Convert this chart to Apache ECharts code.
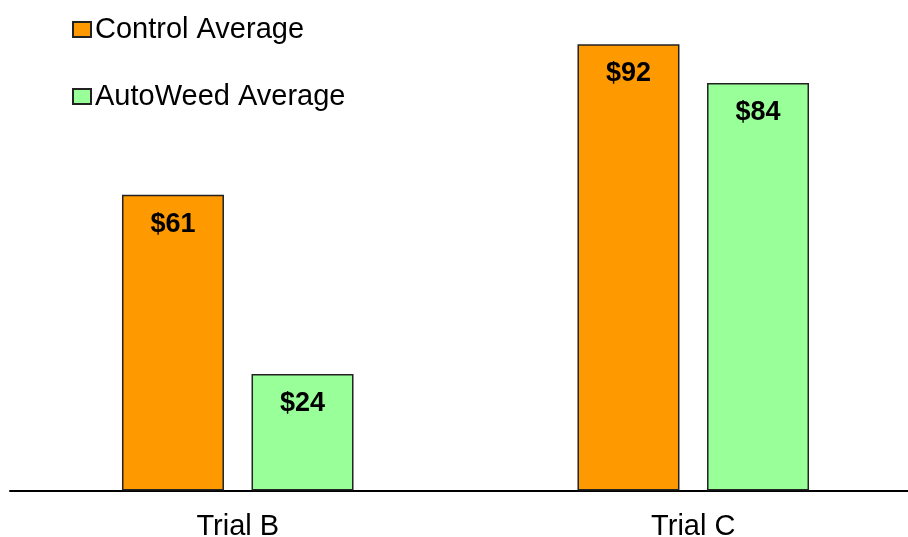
<!DOCTYPE html>
<html>
<head>
<meta charset="utf-8">
<script src="https://cdn.jsdelivr.net/npm/echarts@6/dist/echarts.min.js"></script>
<style>
  html, body { margin: 0; padding: 0; background: #fff; }
  #chart { width: 908px; height: 537px; }
</style>
</head>
<body>
<div id="chart"></div>
<script>
// Cost per trial, control plots vs. AutoWeed plots
const categories = ['Trial B', 'Trial C'];
const controlAverage = [61, 92];
const autoWeedAverage = [24, 84];
const seriesNames = ['Control Average', 'AutoWeed Average'];

const chart = echarts.init(document.getElementById('chart'), null, { renderer: 'canvas' });

const labelStyle = {
  show: true,
  position: 'insideTop',
  distance: 16,
  formatter: p => '$' + p.value,
  fontFamily: 'Liberation Sans, Arial, sans-serif',
  fontWeight: 'bold',
  fontSize: 27,
  color: '#000'
};

chart.setOption({
  animation: false,
  backgroundColor: '#fff',
  textStyle: { fontFamily: 'Liberation Sans, Arial, sans-serif' },
  legend: {
    orient: 'vertical',
    left: 72,
    top: 15,
    padding: 0,
    itemWidth: 18,
    itemHeight: 15,
    itemGap: 38,
    icon: 'rect',
    textStyle: { fontSize: 29, color: '#000', padding: [0, 0, 0, -1] },
    data: seriesNames
  },
  // the plot area runs a little past the right edge, so the axis line spans the full width
  grid: {
    left: 10, width: 911, top: 5.5, bottom: 46.5,
    containLabel: false,
    outerBoundsMode: 'none'
  },
  xAxis: {
    type: 'category',
    data: categories,
    axisLine: { lineStyle: { color: '#000', width: 2 } },
    axisTick: { show: false },
    axisLabel: { fontSize: 29, color: '#000', margin: 22 }
  },
  yAxis: {
    type: 'value',
    min: 0,
    max: 100,
    show: false,
    splitLine: { show: false }
  },
  series: [
    {
      name: seriesNames[0],
      type: 'bar',
      data: controlAverage,
      barWidth: 102,
      barGap: '27%',
      itemStyle: { color: '#FF9900', borderColor: '#222', borderWidth: 1.5 },
      label: labelStyle
    },
    {
      name: seriesNames[1],
      type: 'bar',
      data: autoWeedAverage,
      barWidth: 102,
      itemStyle: { color: '#99FF99', borderColor: '#222', borderWidth: 1.5 },
      label: labelStyle
    }
  ]
});
</script>
</body>
</html>
